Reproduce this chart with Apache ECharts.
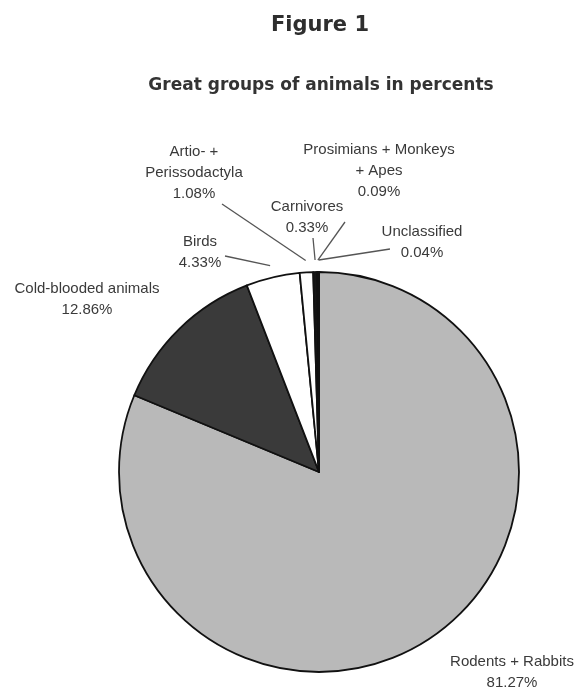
<!DOCTYPE html>
<html>
<head>
<meta charset="utf-8">
<script src="https://cdn.jsdelivr.net/npm/echarts@6/dist/echarts.min.js"></script>
<style>
  html, body { margin: 0; padding: 0; background: #fff; }
  #chart { width: 579px; height: 688px; }
</style>
</head>
<body>
<div id="chart"></div>
<script>
// ---- data ----
var categories = [
  'Rodents + Rabbits',
  'Cold-blooded animals',
  'Birds',
  'Artio- +\nPerissodactyla',
  'Carnivores',
  'Prosimians + Monkeys\n+ Apes',
  'Unclassified'
];
var percents = [81.27, 12.86, 4.33, 1.08, 0.33, 0.09, 0.04];

// ---- styles / layout (not data) ----
var sliceColors = ['#b9b9b9', '#3a3a3a', '#ffffff', '#ffffff', '#161616', '#161616', '#161616'];
var showLines = [false, false, true, true, true, true, true];
// label centre positions [x, y] and leader-line start near the label
var labelCenters = [[512, 672], [87, 299], [200, 252], [194, 173], [307, 217], [379, 171], [422, 242]];
var lineStarts = [null, null, [225, 256], [222, 204], [313, 238], [345, 222], [390, 249]];
var pieCenter = [319, 472];
var pieRadius = 200;

var chart = echarts.init(document.getElementById('chart'), null, { renderer: 'canvas' });

var seriesData = categories.map(function (name, i) {
  return {
    name: name,
    value: percents[i],
    itemStyle: { color: sliceColors[i] },
    labelLine: { show: showLines[i] }
  };
});

chart.setOption({
  animation: false,
  backgroundColor: '#ffffff',
  title: [
    {
      text: 'Figure 1',
      left: 320, top: 15, padding: 0,
      textAlign: 'center',
      textStyle: { fontFamily: 'DejaVu Sans', fontWeight: 'bold', fontSize: 21, color: '#2e2e2e' }
    },
    {
      text: 'Great groups of animals in percents',
      left: 321, top: 77, padding: 0,
      textAlign: 'center',
      textStyle: { fontFamily: 'DejaVu Sans', fontWeight: 'bold', fontSize: 17, color: '#333333' }
    }
  ],
  series: [{
    type: 'pie',
    center: pieCenter,
    radius: [0, pieRadius],
    startAngle: 90,
    clockwise: true,
    avoidLabelOverlap: false,
    minAngle: 0,
    data: seriesData,
    itemStyle: { borderColor: '#111111', borderWidth: 1.8 },
    emphasis: { disabled: true },
    label: {
      show: true,
      position: 'outside',
      fontFamily: 'Liberation Sans',
      fontSize: 15,
      lineHeight: 21,
      color: '#3a3a3a',
      align: 'center',
      formatter: function (p) {
        return p.name + '\n' + p.value.toFixed(2) + '%';
      }
    },
    labelLine: {
      show: true,
      length: 12,
      length2: 10,
      lineStyle: { color: '#555555', width: 1.3 }
    },
    labelLayout: function (params) {
      var i = params.dataIndex;
      var c = labelCenters[i];
      var out = { x: c[0], y: c[1], align: 'center', verticalAlign: 'middle' };
      if (showLines[i] && params.labelLinePoints) {
        var p0 = params.labelLinePoints[0];
        var dx = p0[0] - pieCenter[0], dy = p0[1] - pieCenter[1];
        var len = Math.sqrt(dx * dx + dy * dy) || 1;
        var tip = [p0[0] + dx / len * 12, p0[1] + dy / len * 12];
        out.labelLinePoints = [tip, tip, lineStarts[i]];
      }
      return out;
    }
  }]
});
</script>
</body>
</html>
